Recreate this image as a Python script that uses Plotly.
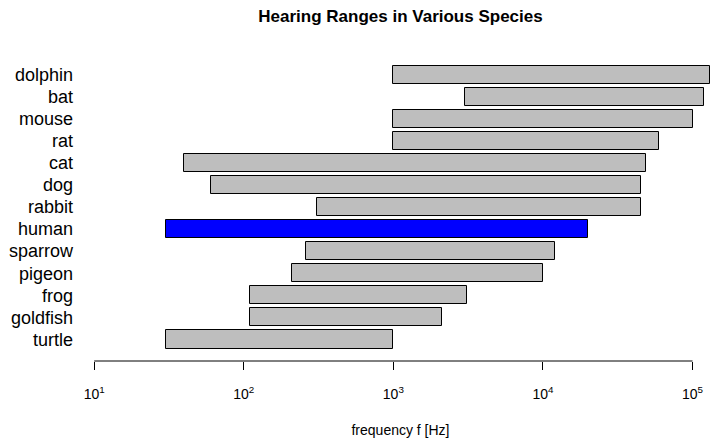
import plotly.graph_objects as go

species = ["turtle", "goldfish", "frog", "pigeon", "sparrow", "human", "rabbit",
           "dog", "cat", "rat", "mouse", "bat", "dolphin"]
low_hz = [30, 110, 110, 210, 260, 30, 310, 60, 40, 1000, 1000, 3000, 1000]
high_hz = [1000, 2100, 3100, 10000, 12000, 20000, 45000, 45000, 49000, 60000, 100000, 120000, 130000]
highlight = "human"

tick_vals = [10, 100, 1000, 10000, 100000]
tick_text = ["10<sup>1</sup>", "10<sup>2</sup>", "10<sup>3</sup>", "10<sup>4</sup>", "10<sup>5</sup>"]

FONT = "Liberation Sans, Arial, Helvetica, sans-serif"

colors = ["#0000FF" if s == highlight else "#BEBEBE" for s in species]
sizes = [h - l for l, h in zip(low_hz, high_hz)]

fig = go.Figure(go.Bar(
    y=species, x=sizes, base=low_hz, orientation="h",
    width=0.833,
    marker=dict(color=colors, line=dict(color="#000000", width=1)),
    hoverinfo="skip",
))

fig.update_layout(
    width=710, height=438,
    margin=dict(l=91, r=0, t=50, b=75),
    paper_bgcolor="white", plot_bgcolor="white",
    font=dict(family=FONT, color="black"),
    showlegend=False,
    bargap=0,
    title=dict(text="<b>Hearing Ranges in Various Species</b>", x=0.5, xref="paper",
               xanchor="center", y=0.964, yref="container", yanchor="middle",
               font=dict(size=17, family=FONT, color="black")),
    xaxis=dict(
        type="log", range=[0.9786, 5.117],
        tickvals=tick_vals, ticktext=tick_text,
        ticks="outside", ticklen=8, tickwidth=1, tickcolor="black",
        ticklabelstandoff=12,
        showline=False, showgrid=False, zeroline=False,
        tickfont=dict(size=14, family=FONT, color="black"),
        title=dict(text="frequency f [Hz]", standoff=26,
                   font=dict(size=14, family=FONT, color="black")),
    ),
    yaxis=dict(
        type="category", categoryorder="array", categoryarray=species,
        range=[-0.982, 13.126],
        showline=False, showgrid=False, zeroline=False, ticks="",
        ticklabelstandoff=17,
        tickfont=dict(size=18, family=FONT, color="black"),
    ),
)

# axis line spanning only the labelled decades (data units on the log axis)
fig.add_shape(type="line", xref="x", yref="paper",
              x0=tick_vals[0], x1=tick_vals[-1],
              y0=0, y1=0, line=dict(color="black", width=1), layer="above")

fig.write_html("out.html",
               config={"displayModeBar": False},
               post_script="document.body.style.margin='0';document.body.style.overflow='hidden';")
